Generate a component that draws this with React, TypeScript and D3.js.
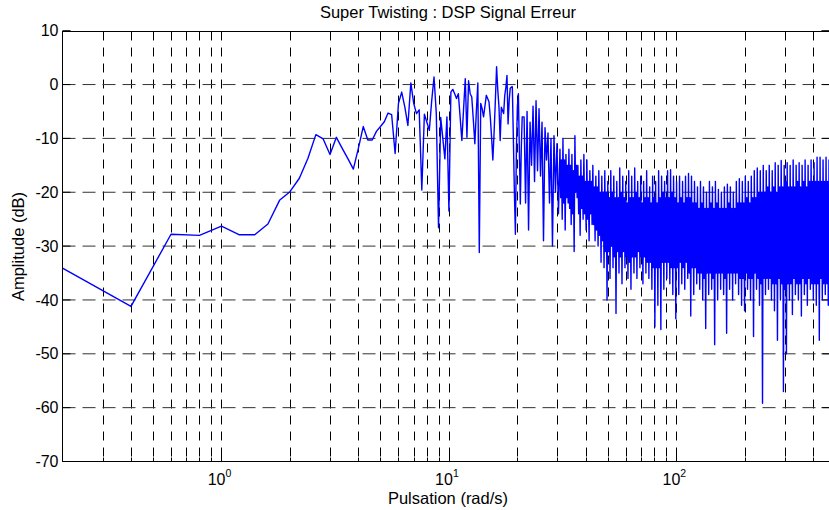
import React from 'react';
import * as d3 from 'd3';

// chart texts
const title = 'Super Twisting : DSP Signal Erreur';
const xLabel = 'Pulsation (rad/s)';
const yLabel = 'Amplitude (dB)';
const yTicks = [10, 0, -10, -20, -30, -40, -50, -60, -70];
const xDecades = [0, 1, 2];

// low band : one point every 0.2 rad/s, from 0.2 to 21 rad/s (dB)
const freqStep = 0.2;
const lowAmp = [
	-34.1, -41.2, -27.8, -28.0, -26.3, -27.9, -27.9, -25.9, -21.5, -19.9,
	-17.4, -13.7, -9.3, -10.1, -13.0, -9.8, -11.9, -13.8, -15.7, -11.8,
	-7.8, -10.3, -10.3, -8.7, -7.8, -6.9, -5.3, -5.6, -12.8, -3.5,
	-1.4, -4.2, -7.6, 0.3, -3.5, -5.4, -4.7, -19.6, -5.5, -7.0,
	-8.5, -3.0, 1.4, -5.4, -26.6, -6.1, -10.0, -13.8, -6.0, -23.5,
	-1.4, -0.9, -1.7, -2.6, -1.7, -6.0, -10.4, -4.5, 1.1, -9.8,
	0.7, -1.7, -2.3, -6.5, -11.0, -5.0, 0.3, -31.2, -3.5, -4.5,
	-6.0, -4.0, -2.0, -2.6, -3.2, -6.0, -9.8, -14.0, -8.8, -3.0,
	3.3, -1.0, -4.2, -10.4, -4.2, -4.8, -5.4, -2.0, -0.5, 1.7,
	-7.3, -3.0, -0.7, -0.5, -0.4, -10.0, -20.0, -27.8, -12.0, -4.0,
	-1.7, -12.0, -22.2, -12.0, -6.0,
];

// high band (21.4 -> 469 rad/s) : too dense to separate the points,
// read for each small slice of the axis : highest peak, top and bottom of
// the solid part, lowest dip
const hfStart = 21.4;
const hfEnd = 469;
// slices before this one are still sparse (no solid core)
const hfSolidFrom = 12;
const hfTop = [
	-6, -5, -7, -4, -3, -4.5, -7, -8, -9, -10,
	-9.5, -11, -12, -10, -13, -12, -13, -9.5, -15, -14,
	-13, -14, -16, -15, -17, -16, -17, -16, -18, -16,
	-17, -18, -15.5, -17, -18, -16, -17, -15.5, -18, -17,
	-18, -16, -19, -17, -18, -16, -17, -18, -16, -15.8,
	-17, -18, -17, -18, -17, -16.5, -17, -18, -19, -18,
	-19, -20, -18, -19, -18, -19.5, -20, -19, -18.5, -19,
	-20, -18, -17.5, -18, -17, -18, -17, -16, -15.5, -16,
	-15, -16, -15, -16, -14.5, -15, -14.1, -15, -14.5, -15,
	-14, -15, -14.5, -15, -14, -15, -14, -14.5, -13.5, -13.5,
	-14, -13.5, -14,
];
const hfCoreTop = [
	-9, -8, -10, -7, -6, -8, -10, -11, -12, -12, -13, -13, -14,
	-14, -15, -15, -16, -15, -17, -17, -18, -18, -18, -19, -19, -20,
	-20, -20, -21, -20, -21, -21, -20, -21, -22, -21, -21, -20, -21, -22, -21, -21, -22, -21, -22, -21, -20, -21, -21, -20,
	-21, -22, -21, -22, -21, -21, -22, -22, -23, -22, -23, -23, -22, -23, -22, -23, -23, -23, -22, -23, -23, -22, -22, -22, -21, -22, -21,
	-21, -20, -20, -20, -19, -20, -19, -20, -19, -19, -18, -19, -19, -19, -18, -19, -18, -19, -18, -18, -18, -18, -18, -18, -18, -18,
];
const hfCoreBot = [
	-16, -18, -13, -15, -14, -15, -18, -13, -18, -20, -18, -20, -21,
	-22, -21, -23, -24, -20, -24, -23, -24, -25, -24, -26, -27, -28,
	-29, -31, -31, -30, -32, -31, -32, -31, -32, -33, -32, -32, -31, -32, -32, -33, -33, -34, -34, -34, -33, -33, -33, -34,
	-34, -34, -33, -34, -33, -35, -34, -34, -35, -35, -36, -35, -35, -36, -35, -35, -35, -36, -35, -35, -35, -35, -36, -36, -35, -36, -36,
	-35, -36, -37, -36, -36, -36, -37, -37, -36, -37, -38, -37, -37, -36, -37, -37, -36, -37, -36, -37, -37, -37, -36, -37, -37, -37,
];
const hfBot = [
	-22, -27, -15, -18, -16, -17, -29, -14, -22, -30,
	-20, -24, -25, -27, -22, -26, -31, -21, -28, -25,
	-27, -29, -26, -29, -30, -33, -34, -40, -36, -34,
	-42.5, -35, -37, -34, -36, -38, -35, -36, -34, -37,
	-35, -36, -38, -45, -41, -45.5, -38, -36, -37, -39,
	-43.5, -39, -37, -38, -36, -43, -39, -37, -38, -40,
	-45.3, -39, -38, -48.3, -40, -38, -39, -46.2, -38, -40,
	-37, -39, -41, -42, -38, -40, -46.8, -38, -41, -59.2,
	-39, -38, -40, -42, -47.5, -40, -57, -50, -40, -42.7,
	-39, -40, -43, -39, -41, -38, -40, -41, -47.5, -40,
	-39, -41, -40.2,
];

const width = 829;
const height = 510;

const App: React.FC = () => {
	const left = 62.5;
	const right = 829.5;
	const top = 31.5;
	const bottom = 461.5;

	const x = d3.scaleLog().domain([0.2, 471.24]).range([left, right]);
	const y = d3.scaleLinear().domain([-70, 10]).range([bottom, 30.7]);

	// all the points of the trace, low band then high band
	const pts: [number, number][] = lowAmp.map((v, i) => [freqStep * (i + 1), v]);
	const n = hfTop.length;
	const ratio = Math.pow(hfEnd / hfStart, 1 / (n - 1));
	for (let i = 0; i < n; i++) {
		const f = hfStart * Math.pow(ratio, i);
		if (i < hfSolidFrom) {
			pts.push([f, hfTop[i]]);
			pts.push([f * Math.pow(ratio, 0.5), hfBot[i]]);
		} else {
			pts.push([f, hfTop[i]]);
			pts.push([f * Math.pow(ratio, 0.25), hfCoreBot[i]]);
			pts.push([f * Math.pow(ratio, 0.5), hfCoreTop[i]]);
			pts.push([f * Math.pow(ratio, 0.75), hfBot[i]]);
		}
	}
	const line = d3
		.line<[number, number]>()
		.x((d) => x(d[0]))
		.y((d) => y(d[1]));

	// log grid : 1..9 in every decade
	const xGrid: number[] = [];
	[-1, 0, 1, 2].forEach((d) => {
		for (let m = 1; m <= 9; m++) {
			const v = m * Math.pow(10, d);
			if (v > 0.2 && v < 471) xGrid.push(v);
		}
	});
	const isMajor = (v: number) => xDecades.some((d) => Math.abs(v - Math.pow(10, d)) < 1e-9);

	const font = 'Liberation Sans, Arial, Helvetica, sans-serif';

	return (
		<svg
			width={width}
			height={height}
			style={{ position: 'absolute', left: 0, top: 0, background: '#fff' }}
			fontFamily={font}
		>
			<rect x={0} y={0} width={width} height={height} fill="#fff" />
			<defs>
				<clipPath id="plotArea">
					<rect x={left} y={top} width={right - left} height={bottom - top} />
				</clipPath>
			</defs>

			{/* grid */}
			<g className="grid" stroke="#000" strokeWidth={1} fill="none">
				{xGrid.map((v) => (
					<line
						key={'gx' + v}
						x1={Math.round(x(v)) + 0.5}
						x2={Math.round(x(v)) + 0.5}
						y1={top}
						y2={bottom}
						strokeDasharray="9,7"
					/>
				))}
				{yTicks
					.filter((t) => t !== 10 && t !== -70)
					.map((t) => (
						<line
							key={'gy' + t}
							x1={left}
							x2={right}
							y1={y(t)}
							y2={y(t)}
							stroke="#333"
							strokeDasharray="13,7"
						/>
					))}
			</g>

			{/* ticks */}
			<g stroke="#000" strokeWidth={1}>
				{xGrid.map((v) => {
					const len = isMajor(v) ? 8 : 4;
					const px = Math.round(x(v)) + 0.5;
					return (
						<g key={'tx' + v}>
							<line x1={px} x2={px} y1={bottom} y2={bottom - len} />
							<line x1={px} x2={px} y1={top} y2={top + len} />
						</g>
					);
				})}
				{yTicks.map((t) => (
					<g key={'ty' + t}>
						<line x1={left} x2={left + 8} y1={y(t)} y2={y(t)} />
						<line x1={right} x2={right - 8} y1={y(t)} y2={y(t)} />
					</g>
				))}
			</g>

			{/* trace */}
			<path
				d={line(pts) || ''}
				fill="none"
				stroke="#0000ff"
				strokeWidth={1.4}
				strokeLinejoin="round"
				clipPath="url(#plotArea)"
			/>

			{/* box */}
			<rect x={left} y={top} width={right - left} height={bottom - top} fill="none" stroke="#000" strokeWidth={1} />

			{/* tick labels */}
			<g fontSize={16} fill="#000">
				{yTicks.map((t) => (
					<text key={'ly' + t} x={58.5} y={y(t) + 5.6} textAnchor="end">
						{t}
					</text>
				))}
				{xDecades.map((d) => (
					<text key={'lx' + d} x={x(Math.pow(10, d)) - 2} y={485} textAnchor="middle">
						10
						<tspan dy={-8} fontSize={10.5}>
							{d}
						</tspan>
					</text>
				))}
			</g>

			{/* labels */}
			<text x={448} y={18} textAnchor="middle" fontSize={16.5}>
				{title}
			</text>
			<text x={448} y={504} textAnchor="middle" fontSize={16.5}>
				{xLabel}
			</text>
			<text transform={`translate(24,246.5) rotate(-90)`} textAnchor="middle" fontSize={16.5}>
				{yLabel}
			</text>
		</svg>
	);
};

export default App;
